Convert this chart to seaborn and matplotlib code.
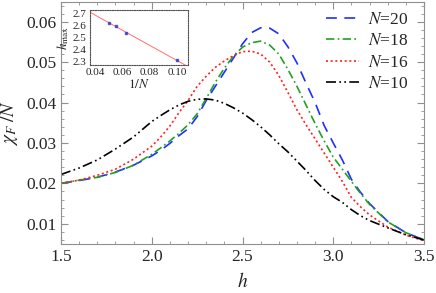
import numpy as np
import pandas as pd
import matplotlib
matplotlib.use("Agg")
import matplotlib.pyplot as plt
import seaborn as sns

# values
h = [1.5, 1.6, 1.7, 1.8, 1.9, 2.0, 2.05, 2.1, 2.15, 2.2, 2.25, 2.3, 2.35, 2.4, 2.45,
     2.5, 2.55, 2.6, 2.65, 2.7, 2.75, 2.8, 2.85, 2.9, 2.95, 3.0, 3.05, 3.1, 3.15,
     3.2, 3.3, 3.4, 3.5]
chi_n20 = [0.0200, 0.0207, 0.0215, 0.0228, 0.0245, 0.0268, 0.0282, 0.0299, 0.0318, 0.0335,
           0.0365, 0.0405, 0.0440, 0.0475, 0.0510, 0.0545, 0.0573, 0.0585, 0.0584, 0.0570,
           0.0538, 0.0498, 0.0448, 0.0400, 0.0343, 0.0300, 0.0258, 0.0210, 0.0178, 0.0150,
           0.0106, 0.0078, 0.0060]
chi_n18 = [0.0200, 0.0208, 0.0215, 0.0227, 0.0245, 0.0272, 0.0288, 0.0305, 0.0324, 0.0345,
           0.0372, 0.0410, 0.0450, 0.0485, 0.0515, 0.0537, 0.0548, 0.0552, 0.0542, 0.0520,
           0.0482, 0.0440, 0.0394, 0.0348, 0.0305, 0.0265, 0.0235, 0.0205, 0.0175, 0.0148,
           0.0105, 0.0078, 0.0060]
chi_n16 = [0.0200, 0.0208, 0.0220, 0.0235, 0.0260, 0.0292, 0.0315, 0.0342, 0.0375, 0.0405,
           0.0440, 0.0465, 0.0487, 0.0503, 0.0516, 0.0526, 0.0527, 0.0520, 0.0500, 0.0467,
           0.0425, 0.0382, 0.0345, 0.0310, 0.0275, 0.0240, 0.0205, 0.0165, 0.0142, 0.0122,
           0.0092, 0.0072, 0.0058]
chi_n10 = [0.0222, 0.0238, 0.0258, 0.0285, 0.0315, 0.0353, 0.0368, 0.0382, 0.0394, 0.0403,
           0.0408, 0.0409, 0.0406, 0.0398, 0.0387, 0.0374, 0.0358, 0.0340, 0.0320, 0.0298,
           0.0278, 0.0255, 0.0232, 0.0207, 0.0185, 0.0167, 0.0153, 0.0135, 0.0120, 0.0108,
           0.0090, 0.0073, 0.0060]

inv_n = [0.05, 0.0556, 0.0625, 0.10]
h_max = [2.620, 2.590, 2.535, 2.305]

series = [
    ("20", chi_n20, "#1f2fff", (6.5, 4.5)),
    ("18", chi_n18, "#22a022", (5, 2, 1, 2)),
    ("16", chi_n16, "#ff2020", (1.2, 1.6)),
    ("10", chi_n10, "black", (6, 2, 1, 2, 1, 2)),
]

sns.set_style("ticks")
plt.rcParams["font.family"] = ["Liberation Serif", "DejaVu Serif"]
plt.rcParams["mathtext.fontset"] = "stix"

fig = plt.figure(figsize=(4.36, 2.93), dpi=100)
ax = fig.add_axes([61 / 436, 49 / 293, 363 / 436, 242.5 / 293])

for n, vals, col, dash in series:
    df = pd.DataFrame({"h": h, "chi": vals})
    sns.lineplot(data=df, x="h", y="chi", ax=ax, color=col, lw=1.2,
                 label=rf"$N$={n}")
    ax.lines[-1].set_dashes(dash)

ax.set_xlim(1.5, 3.5)
ax.set_ylim(0.005, 0.065)
ax.set_xticks([1.5, 2.0, 2.5, 3.0, 3.5])
ax.set_xticklabels(["1.5", "2.0", "2.5", "3.0", "3.5"])
ax.set_yticks([0.01, 0.02, 0.03, 0.04, 0.05, 0.06])
ax.set_yticklabels(["0.01", "0.02", "0.03", "0.04", "0.05", "0.06"])
ax.xaxis.set_minor_locator(plt.MultipleLocator(0.1))
ax.yaxis.set_minor_locator(plt.MultipleLocator(0.002))
ax.tick_params(which="both", direction="in", top=True, right=True,
               color="#909090", labelsize=12.5)
ax.tick_params(which="major", length=5, width=0.8)
ax.tick_params(which="minor", length=2.5, width=0.6)
for s in ax.spines.values():
    s.set_color("#909090")
    s.set_linewidth(0.8)
ax.set_xlabel(r"$h$", fontsize=14, labelpad=5)
ax.set_ylabel(r"$\chi_F\;/N$", fontsize=14, labelpad=4)

leg = ax.legend(loc="upper right", bbox_to_anchor=(0.985, 1.0), frameon=False,
                fontsize=12.5, handlelength=1.9, handletextpad=0.5,
                labelspacing=0.3, borderaxespad=0.2)

# inset
ins = fig.add_axes([89.5 / 436, (293 - 65) / 293, 98.5 / 436, 55 / 293])
ins.set_xlim(0.036, 0.108)
ins.set_ylim(2.267, 2.725)
sns.regplot(x=inv_n, y=h_max, ax=ins, ci=None, truncate=False,
            marker="s", scatter_kws={"s": 3, "color": "#3040c0", "zorder": 3},
            line_kws={"color": "#ff7070", "lw": 0.7})
ins.set_xlim(0.036, 0.108)
ins.set_ylim(2.267, 2.725)
ins.set_xticks([0.04, 0.06, 0.08, 0.10])
ins.set_xticklabels(["0.04", "0.06", "0.08", "0.10"])
ins.set_yticks([2.3, 2.4, 2.5, 2.6, 2.7])
ins.set_yticklabels(["2.3", "2.4", "2.5", "2.6", "2.7"])
ins.tick_params(direction="in", length=0, labelsize=8, pad=2)
for s in ins.spines.values():
    s.set_linestyle((0, (1, 1.2)))
    s.set_color("#505050")
    s.set_linewidth(0.8)
ins.set_xlabel(r"$1/N$", fontsize=9.5, labelpad=1)
ins.set_ylabel(r"$h_{\rm max}$", fontsize=9.5, labelpad=1)

fig.savefig("out.png", dpi=100)
